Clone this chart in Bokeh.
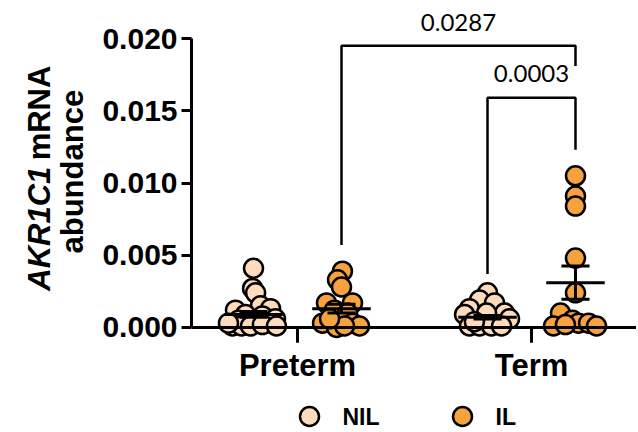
import numpy as np
from bokeh.plotting import figure
from bokeh.layouts import row, column
from bokeh.models import FixedTicker, NumeralTickFormatter, Span
from bokeh.core.properties import value
from bokeh.embed import file_html
from bokeh.resources import INLINE

# ---------------- data ----------------
groups = ["Preterm", "Term"]
group_pos = [1.0, 2.0]
series = ["NIL", "IL"]
series_offset = [-0.188, 0.188]
series_colors = ["#FDDBBC", "#F7A13F"]

# individual values and beeswarm jitter
preterm_nil_vals = [0.0041, 0.0027, 0.0024, 0.0015, 0.0013, 0.0012, 0.0009, 0.0008,
                    0.0006, 0.0005, 0.0001, 0.0001, 0.0001, 0.0002, 0.0001, 0.0003]
preterm_nil_jit = [0.0, -0.004, 0.009, 0.03, 0.073, -0.077, -0.034, 0.038,
                   0.094, -0.064, -0.09, -0.051, -0.013, 0.038, 0.098, -0.107]

preterm_il_vals = [0.0039, 0.0033, 0.0028, 0.0017, 0.0017, 0.0012, 0.0010,
                   0.0003, 0.0000, 0.0003, 0.0001, 0.0001, 0.0006]
preterm_il_jit = [0.004, -0.017, 0.0, -0.064, 0.047, -0.03, 0.026,
                  -0.081, -0.021, 0.047, 0.077, 0.013, -0.051]

term_nil_vals = [0.0024, 0.0019, 0.0017, 0.0013, 0.0010, 0.0010, 0.0009,
                 0.0006, 0.0001, 0.0001, 0.0001, 0.0001, 0.0004]
term_nil_jit = [0.0, -0.034, 0.03, -0.077, 0.073, -0.004, -0.098,
                0.094, -0.077, -0.034, 0.017, 0.06, -0.056]

term_il_vals = [0.0105, 0.0091, 0.0084, 0.0048, 0.0024, 0.0010,
                0.0001, 0.0005, 0.0003, 0.0003, 0.0002, 0.0001]
term_il_jit = [0.0, 0.0, 0.0, 0.0, 0.0, -0.064,
               -0.094, -0.013, 0.013, 0.056, -0.043, 0.09]

# mean and SEM per group (Preterm, Term)
mean_nil = [0.0009, 0.0007]
sem_nil = [0.0002, 0.00012]
mean_il = [0.0013, 0.0031]
sem_il = [0.0003, 0.00115]

# significance brackets
br_left = [("Preterm", "IL"), ("Term", "NIL")]
br_right = [("Term", "IL"), ("Term", "IL")]
br_top = [0.0195, 0.0159]
br_left_bottom = [0.0057, 0.0037]
br_right_bottom = [0.0181, 0.0123]
br_text = ["0.0287", "0.0003"]
br_text_y = [0.0211, 0.01758]

y_ticks = [0.0, 0.005, 0.010, 0.015, 0.020]
y_title_italic = "AKR1C1"
y_title_rest = "mRNA"
y_title_line2 = "abundance"

BOLD_FONT = "Liberation Sans"
MAIN_H = 388
TITLE_W = 90
MAIN_W = 546
LEG_H = 42

# ---------------- main figure ----------------
p = figure(width=MAIN_W, height=MAIN_H, x_range=(0.547, 2.4487), y_range=(-0.00111, 0.02208),
           output_backend="svg", toolbar_location=None,
           min_border_left=101, min_border_right=0, min_border_top=8, min_border_bottom=45)
p.outline_line_color = None
p.xgrid.grid_line_color = None
p.ygrid.grid_line_color = None

# y axis
p.yaxis.bounds = (0, 0.02)
p.yaxis.ticker = FixedTicker(ticks=y_ticks)
p.yaxis.formatter = NumeralTickFormatter(format="0.000")
p.yaxis.minor_tick_line_color = None
p.yaxis.major_tick_in = 0
p.yaxis.major_tick_out = 10
p.yaxis.major_tick_line_width = 3
p.yaxis.axis_line_width = 3
p.yaxis.major_label_text_font = BOLD_FONT
p.yaxis.major_label_text_font_style = "bold"
p.yaxis.major_label_text_font_size = "30px"
p.yaxis.major_label_text_color = "black"
p.yaxis.major_label_standoff = 4

# x axis (labels only; line drawn at y=0)
p.xaxis.ticker = FixedTicker(ticks=group_pos)
p.xaxis.major_label_overrides = {g: n for g, n in zip(group_pos, groups)}
p.xaxis.axis_line_color = None
p.xaxis.major_tick_line_color = None
p.xaxis.minor_tick_line_color = None
p.xaxis.major_label_text_font = BOLD_FONT
p.xaxis.major_label_text_font_style = "bold"
p.xaxis.major_label_text_font_size = "31px"
p.xaxis.major_label_text_color = "black"
p.xaxis.major_label_standoff = -2

p.add_layout(Span(location=0, dimension="width", line_color="black", line_width=3))
p.segment(x0=group_pos, y0=[0] * len(group_pos), x1=group_pos,
          y1=[-0.00105] * len(group_pos), line_color="black", line_width=3)

# points
point_sets = [
    (0, 0, preterm_nil_vals, preterm_nil_jit),
    (0, 1, preterm_il_vals, preterm_il_jit),
    (1, 0, term_nil_vals, term_nil_jit),
    (1, 1, term_il_vals, term_il_jit),
]
for gi, si, vals, jit in point_sets:
    xs = [group_pos[gi] + series_offset[si] + j for j in jit]
    p.scatter(x=xs, y=vals, size=19, fill_color=series_colors[si],
              line_color="black", line_width=2.5)

# mean + SEM
for si, (means, sems) in enumerate([(mean_nil, sem_nil), (mean_il, sem_il)]):
    xc = [g + series_offset[si] for g in group_pos]
    lo = [m - s for m, s in zip(means, sems)]
    hi = [m + s for m, s in zip(means, sems)]
    p.segment(x0=[x - 0.125 for x in xc], x1=[x + 0.125 for x in xc], y0=means, y1=means,
              line_color="black", line_width=3)
    p.segment(x0=xc, x1=xc, y0=lo, y1=hi, line_color="black", line_width=3)
    for ys in (lo, hi):
        p.segment(x0=[x - 0.06 for x in xc], x1=[x + 0.06 for x in xc], y0=ys, y1=ys,
                  line_color="black", line_width=3)

# brackets
def pos_of(g, s):
    return group_pos[groups.index(g)] + series_offset[series.index(s)]

bx, by, tx = [], [], []
for l, r, top, lb, rb in zip(br_left, br_right, br_top, br_left_bottom, br_right_bottom):
    xl, xr = pos_of(*l), pos_of(*r)
    bx.append([xl, xl, xr, xr])
    by.append([lb, top, top, rb])
    tx.append((xl + xr) / 2)
p.multi_line(xs=bx, ys=by, line_color="black", line_width=2.5)
p.text(x=tx, y=br_text_y, text=br_text, text_font=value("Lato"), text_font_size="24px",
       text_align="center", text_baseline="middle", text_color="black")

# ---------------- y-axis title figure (mixed italic / bold) ----------------
pt = figure(width=TITLE_W, height=MAIN_H, x_range=(0, TITLE_W), y_range=(0, MAIN_H),
            output_backend="svg", toolbar_location=None,
            min_border_left=0, min_border_right=0, min_border_top=0, min_border_bottom=0)
pt.axis.visible = False
pt.grid.visible = False
pt.outline_line_color = None
common = dict(angle=np.pi / 2, text_align="center", text_baseline="middle",
              text_font=value(BOLD_FONT), text_font_size="31px", text_color="black")
pt.text(x=[39], y=[MAIN_H - 255], text=[y_title_italic], text_font_style="bold italic", **common)
pt.text(x=[39], y=[MAIN_H - 121], text=[y_title_rest], text_font_style="bold", **common)
pt.text(x=[72], y=[MAIN_H - 189], text=[y_title_line2], text_font_style="bold", **common)

# ---------------- legend figure ----------------
leg_w = TITLE_W + MAIN_W
pl = figure(width=leg_w, height=LEG_H, x_range=(0, leg_w), y_range=(LEG_H, 0),
            output_backend="svg", toolbar_location=None,
            min_border_left=0, min_border_right=0, min_border_top=0, min_border_bottom=0)
pl.axis.visible = False
pl.grid.visible = False
pl.outline_line_color = None
leg_x = [309, 462]
pl.scatter(x=leg_x, y=[28] * len(series), size=19, fill_color=series_colors,
           line_color="black", line_width=2.5)
pl.text(x=[x + 33 for x in leg_x], y=[28] * len(series), text=series,
        text_font=value(BOLD_FONT), text_font_style="bold", text_font_size="23px",
        text_align="left", text_baseline="middle", text_color="black")

layout = column(row(pt, p, spacing=0), pl, spacing=0)
open("out.html", "w").write(file_html(layout, INLINE))
